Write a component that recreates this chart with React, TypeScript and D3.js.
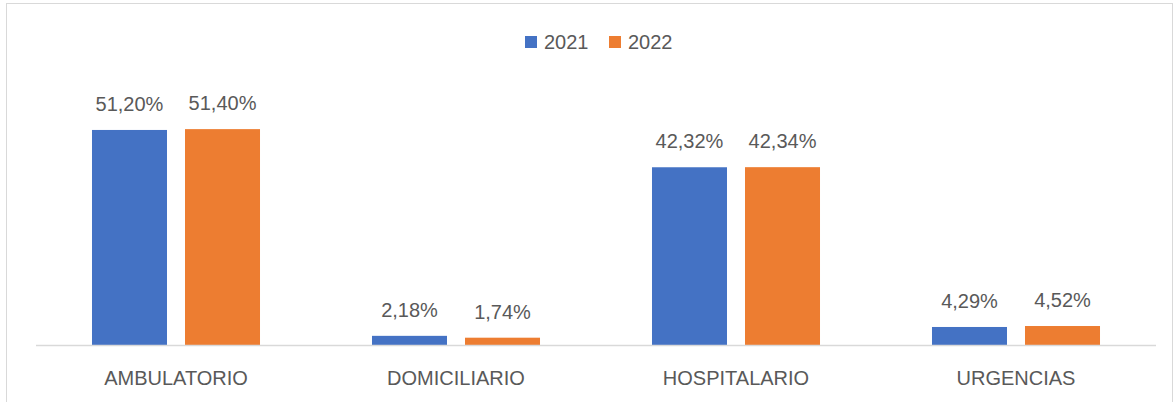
import React from 'react'
import { scaleBand, scaleLinear } from 'd3'

const WIDTH = 1175
const HEIGHT = 402

const categories = ['AMBULATORIO', 'DOMICILIARIO', 'HOSPITALARIO', 'URGENCIAS']
const series = ['2021', '2022']
const values2021 = [51.2, 2.18, 42.32, 4.29]
const values2022 = [51.4, 1.74, 42.34, 4.52]
const colors = ['#4472C4', '#ED7D31']

const TEXT = '#595959'
const FONT = '"Liberation Sans", Arial, sans-serif'

const fmt = (v: number) => v.toFixed(2).replace('.', ',') + '%'

const App = () => {
  const plot = { left: 36, right: 1156, top: 93, bottom: 345 }

  const xScale = scaleBand<string>().domain(categories).range([plot.left, plot.right])
  const inner = scaleBand<string>()
    .domain(series)
    .range([0, xScale.bandwidth()])
    .paddingInner(0.1935)
    .paddingOuter(0.602)
  const yScale = scaleLinear().domain([0, 60]).range([plot.bottom, plot.top])

  const data = [values2021, values2022]

  return (
    <svg
      width={WIDTH}
      height={HEIGHT}
      style={{ position: 'absolute', left: 0, top: 0, background: 'white' }}
      fontFamily={FONT}
    >
      <rect x={6.5} y={3.5} width={1166} height={420} fill="white" stroke="#d9d9d9" strokeWidth={1} />

      {/* legend */}
      <g data-legend>
        {series.map((s, i) => {
          const x = 525 + i * 84
          return (
            <g key={s}>
              <rect x={x} y={36} width={12} height={12} fill={colors[i]} />
              <text x={x + 19} y={49} fontSize={20} fill={TEXT}>{s}</text>
            </g>
          )
        })}
      </g>

      {/* bars */}
      {categories.map((c, ci) => (
        <g key={c} transform={`translate(${xScale(c)}, 0)`}>
          {series.map((s, si) => {
            const v = data[si][ci]
            const x = inner(s) as number
            const y = yScale(v)
            return (
              <g key={s}>
                <rect x={x} y={y} width={inner.bandwidth()} height={plot.bottom - y} fill={colors[si]} />
                <text
                  x={x + inner.bandwidth() / 2}
                  y={y - 19}
                  textAnchor="middle"
                  fontSize={20}
                  fill={TEXT}
                >
                  {fmt(v)}
                </text>
              </g>
            )
          })}
        </g>
      ))}

      {/* x axis */}
      <line x1={plot.left} x2={plot.right} y1={plot.bottom + 0.5} y2={plot.bottom + 0.5} stroke="#d9d9d9" strokeWidth={1.5} />
      {categories.map(c => (
        <text
          key={c}
          x={(xScale(c) as number) + xScale.bandwidth() / 2}
          y={385}
          textAnchor="middle"
          fontSize={20}
          fill={TEXT}
        >
          {c}
        </text>
      ))}
    </svg>
  )
}

export default App
